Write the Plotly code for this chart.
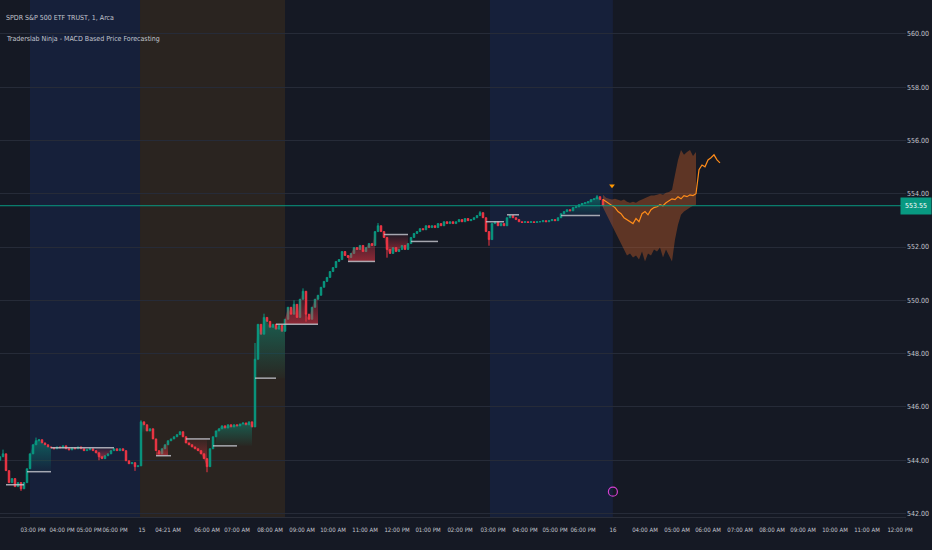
import plotly.graph_objects as go

# ---------------- data ----------------
closes = [
    544.13, 544.24, 543.61, 543.16, 543.31, 543.01, 543.16, 542.93, 543.16, 543.68,
    544.24, 544.58, 544.73, 544.77, 544.65, 544.58, 544.50, 544.47, 544.43, 544.50,
    544.47, 544.54, 544.43, 544.39, 544.47, 544.43, 544.50, 544.43, 544.36, 544.39,
    544.43, 544.36, 544.28, 544.13, 544.06, 544.17, 544.24, 544.36, 544.43, 544.36,
    544.43, 544.36, 543.98, 543.87, 543.91, 543.76, 543.79, 545.44, 545.33, 545.10,
    545.18, 544.80, 544.36, 544.24, 544.43, 544.58, 544.73, 544.80, 544.88, 544.96,
    545.07, 544.88, 544.65, 544.58, 544.50, 544.43, 544.36, 544.24, 544.06, 543.76,
    544.43, 544.88, 545.10, 545.18, 545.29, 545.21, 545.33, 545.25, 545.33, 545.29,
    545.36, 545.40, 545.33, 545.44, 545.25, 547.79, 549.10, 548.73, 549.36, 549.21,
    548.99, 549.10, 548.92, 549.06, 548.84, 549.29, 549.74, 549.48, 549.85, 549.36,
    550.04, 550.34, 549.48, 549.29, 549.74, 550.04, 550.19, 550.49, 550.71, 550.86,
    551.08, 551.23, 551.46, 551.53, 551.83, 551.68, 551.61, 551.76, 551.98, 551.91,
    552.06, 551.83, 551.98, 552.13, 552.06, 552.58, 552.80, 552.58, 552.36, 551.91,
    551.76, 551.98, 551.83, 551.91, 552.06, 551.91, 552.13, 552.36, 552.51, 552.58,
    552.69, 552.65, 552.80, 552.73, 552.80, 552.73, 552.88, 552.80, 552.95, 552.88,
    552.95, 552.88, 552.95, 553.03, 552.95, 553.07, 552.99, 553.03, 553.10, 553.18,
    553.29, 553.10, 552.58, 552.28, 552.88, 552.95, 552.80, 552.88, 552.80, 553.10,
    553.18, 553.10, 553.03, 552.95, 552.92, 552.95, 552.92, 552.95, 552.92, 552.95,
    552.95, 552.99, 552.95, 552.99, 553.03, 552.99, 553.10, 553.25, 553.33, 553.40,
    553.36, 553.48, 553.51, 553.59, 553.63, 553.66, 553.70, 553.78, 553.81, 553.89,
    553.78, 553.55,
]
first_open = 544.00
wick_high = {1: 544.40, 12: 544.85, 47: 545.50, 85: 548.40, 88: 549.50, 98: 550.00,
             101: 550.45, 126: 552.90, 160: 553.35, 199: 553.95}
wick_low = {7: 542.85, 45: 543.60, 69: 543.55, 102: 549.20, 129: 551.60, 163: 552.05,
            33: 544.00}

tick_pos = [11, 20.67, 29.67, 38.33, 47.33, 56, 69, 79, 90, 100.67, 111, 121.67, 132.33,
            142.67, 153.33, 164.33, 175, 185, 194.33, 204.33, 215, 225.67, 236, 246.67,
            257.33, 267.67, 278.33, 289, 300]
tick_text = ["03:00 PM", "04:00 PM", "05:00 PM", "06:00 PM", "15", "04:21 AM", "06:00 AM",
             "07:00 AM", "08:00 AM", "09:00 AM", "10:00 AM", "11:00 AM", "12:00 PM",
             "01:00 PM", "02:00 PM", "03:00 PM", "04:00 PM", "05:00 PM", "06:00 PM", "16",
             "04:00 AM", "05:00 AM", "06:00 AM", "07:00 AM", "08:00 AM", "09:00 AM",
             "10:00 AM", "11:00 AM", "12:00 PM"]
price_ticks = [542, 544, 546, 548, 550, 552, 554, 556, 558, 560]

forecast_start = 201
forecast = [553.78, 553.70, 553.63, 553.55, 553.48, 553.33, 553.25, 553.10, 553.03, 552.95,
            552.88, 553.07, 552.95, 553.25, 553.33, 553.21, 553.40, 553.48, 553.51, 553.59,
            553.55, 553.66, 553.74, 553.81, 553.78, 553.89, 553.81, 553.93, 553.89, 553.96,
            553.93, 554.00, 554.90, 555.08, 555.01, 555.27, 555.35, 555.46, 555.27, 555.16]
band_start = 201
band_upper = [553.96, 553.85, 553.81, 553.78, 553.81, 553.78, 553.74, 553.78, 553.70, 553.66,
              553.70, 553.66, 553.74, 553.78, 553.85, 553.89, 553.93, 553.93, 553.96, 554.00,
              553.96, 554.04, 554.07, 554.15, 554.71, 555.27, 555.64, 555.46, 555.57, 555.64,
              555.42, 555.57]
band_lower = [553.48, 553.25, 553.03, 552.80, 552.58, 552.36, 552.13, 551.91, 551.68, 551.76,
              551.61, 551.68, 551.53, 551.83, 551.46, 551.76, 551.68, 551.91, 551.83, 551.98,
              551.61, 551.91, 551.68, 551.46, 552.28, 552.84, 553.21, 553.33, 553.40, 553.48,
              553.55, 553.59]

# horizontal level segments: (start bar, end bar, price)
levels = [(2, 8, 543.08), (9, 17, 543.57), (17, 38, 544.47), (52, 57, 544.17),
          (62, 70, 544.80), (71, 79, 544.54), (85, 92, 547.08), (92, 106, 549.10),
          (116, 125, 551.46), (128, 136, 552.47), (137, 146, 552.21), (162, 168, 552.95),
          (169, 173, 553.21), (187, 200, 553.18)]
# shaded zones: (start bar, end bar, base price, kind)
zones = [(10, 17, 543.57, "up"), (47, 50, 545.05, "up"), (72, 84, 544.54, "up"),
         (85, 95, 547.08, "up"), (187, 200, 553.18, "up"),
         (32, 38, 544.47, "down"), (52, 56, 544.17, "down"), (62, 69, 544.80, "down"),
         (95, 106, 549.10, "down"), (116, 125, 551.46, "down"), (128, 136, 552.47, "down")]
# sessions: (start, end, kind)
sessions = [(10, 46.67, "post"), (46.67, 95, "pre"), (163.3, 204.3, "post")]
last_price = 553.55

# ---------------- styles ----------------
BG = "#151924"
UP = "#089981"
DOWN = "#f23645"
TXT = "#c3c6ce"
FONT = "Liberation Sans Narrow, Arial Narrow, DejaVu Sans Condensed, sans-serif"

fig = go.Figure()

# session bands
for s, e, kind in sessions:
    col = "rgba(41,98,255,0.10)" if kind == "post" else "rgba(255,152,0,0.09)"
    fig.add_shape(type="rect", xref="x", yref="paper", x0=s, x1=e, y0=0, y1=1,
                  fillcolor=col, line_width=0, layer="below")

# zones with vertical gradients
for s, e, base, kind in zones:
    xs = list(range(s, e + 1))
    ys = [closes[i] for i in xs]
    px = xs + xs[::-1]
    py = ys + [base] * len(xs)
    if kind == "up":
        cs = [[0, "rgba(8,153,129,0.03)"], [1, "rgba(8,153,129,0.50)"]]
    else:
        cs = [[0, "rgba(242,54,69,0.55)"], [1, "rgba(242,54,69,0.05)"]]
    fig.add_trace(go.Scatter(x=px, y=py, mode="lines", line_width=0, fill="toself",
                             fillgradient=dict(type="vertical", colorscale=cs),
                             hoverinfo="skip", showlegend=False))

# forecast band
bx = list(range(band_start, band_start + len(band_upper)))
fig.add_trace(go.Scatter(x=bx + bx[::-1], y=band_upper + band_lower[::-1], mode="lines",
                         line_width=0, fill="toself", fillcolor="rgba(214,100,40,0.38)",
                         hoverinfo="skip", showlegend=False))

# candles
opens = [first_open] + closes[:-1]
highs = [max(o, c) for o, c in zip(opens, closes)]
lows = [min(o, c) for o, c in zip(opens, closes)]
for i, v in wick_high.items():
    highs[i] = max(highs[i], v)
for i, v in wick_low.items():
    lows[i] = min(lows[i], v)
fig.add_trace(go.Candlestick(
    x=list(range(len(closes))), open=opens, high=highs, low=lows, close=closes,
    increasing=dict(line=dict(color=UP, width=1), fillcolor=UP),
    decreasing=dict(line=dict(color=DOWN, width=1), fillcolor=DOWN),
    whiskerwidth=0, showlegend=False, hoverinfo="skip"))

# level segments
for s, e, p in levels:
    fig.add_trace(go.Scatter(x=[s, e], y=[p, p], mode="lines",
                             line=dict(color="rgba(190,192,200,0.85)", width=1.5),
                             hoverinfo="skip", showlegend=False))

# forecast line
fx = list(range(forecast_start, forecast_start + len(forecast)))
fig.add_trace(go.Scatter(x=fx, y=forecast, mode="lines",
                         line=dict(color="#ff8c1a", width=1.2),
                         hoverinfo="skip", showlegend=False))

# forecast start marker and event marker
fig.add_trace(go.Scatter(x=[204], y=[554.30], mode="markers",
                         marker=dict(symbol="triangle-down", size=5, color="#ff9800"),
                         hoverinfo="skip", showlegend=False))
fig.add_trace(go.Scatter(x=[204.3], y=[542.82], mode="markers",
                         marker=dict(symbol="circle-open", size=9, color="#d43fd0",
                                     line=dict(color="#d43fd0", width=1.2)),
                         hoverinfo="skip", showlegend=False))

# last price line + label
fig.add_shape(type="line", xref="paper", yref="y", x0=0, x1=1, y0=last_price, y1=last_price,
              line=dict(color=UP, width=1))
fig.add_annotation(xref="paper", yref="y", x=932 / 906, y=last_price, xanchor="right",
                   text=f"{last_price:.2f}", showarrow=False, bgcolor=UP,
                   font=dict(color="white", size=7, family=FONT), borderpad=4)

# header texts
fig.add_annotation(xref="paper", yref="paper", x=0.004, y=1 - 18 / 517, xanchor="left",
                   yanchor="middle",
                   text="SPDR S&P 500 ETF TRUST, 1, Arca", showarrow=False,
                   font=dict(color=TXT, size=7, family=FONT))
fig.add_annotation(xref="paper", yref="paper", x=0.004, y=1 - 39 / 517, xanchor="left",
                   yanchor="middle",
                   text="Traderslab Ninja - MACD Based Price Forecasting", showarrow=False,
                   font=dict(color=TXT, size=7, family=FONT))

fig.update_layout(
    width=932, height=550,
    margin=dict(l=0, r=26, t=0, b=33),
    paper_bgcolor=BG, plot_bgcolor=BG,
    showlegend=False,
    xaxis=dict(range=[0, 302], tickvals=tick_pos, ticktext=tick_text, tickangle=0,
               tickfont=dict(color=TXT, size=6, family=FONT), showgrid=False,
               zeroline=False, showline=True, linecolor="#2a2e39",
               ticks="outside", ticklen=7, tickcolor=BG,
               rangeslider=dict(visible=False), fixedrange=True),
    yaxis=dict(range=[541.87, 561.27], side="right", tickvals=price_ticks,
               ticktext=[f"{v:.2f}" for v in price_ticks],
               tickfont=dict(color=TXT, size=7, family=FONT), showgrid=True,
               gridcolor="#262b38", gridwidth=1, zeroline=False, ticks="",
               automargin=False),
)

fig.write_html("out.html", config={"displayModeBar": False},
               post_script="document.body.style.margin='0';")
